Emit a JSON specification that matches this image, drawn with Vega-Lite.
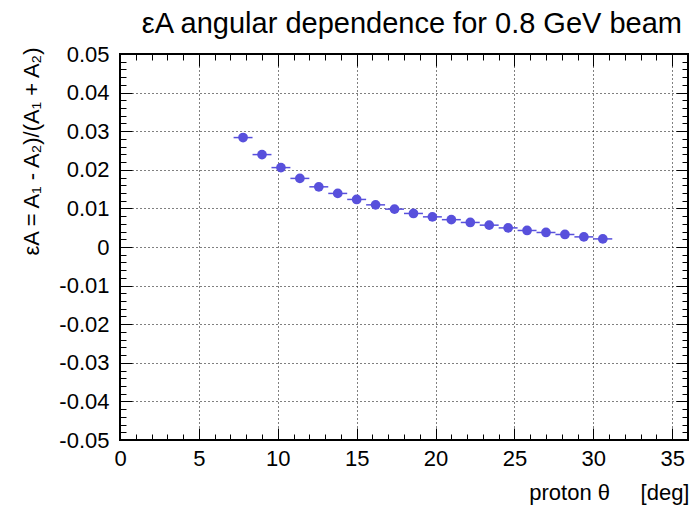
{
  "$schema": "https://vega.github.io/schema/vega-lite/v6.json",
  "width": 568,
  "height": 386,
  "autosize": "none",
  "padding": {"left": 120, "top": 54, "right": 2, "bottom": 68},
  "background": "white",
  "config": {
    "font": "Liberation Sans",
    "view": {"stroke": "black", "strokeWidth": 2},
    "axis": {
      "labelFont": "Liberation Sans",
      "labelFontSize": 22,
      "labelColor": "black",
      "titleFont": "Liberation Sans",
      "titleFontSize": 22,
      "titleFontWeight": "normal",
      "titleColor": "black",
      "domain": false,
      "tickColor": "black",
      "tickWidth": 1,
      "labelFlush": false,
      "labelOverlap": false,
      "labelBound": false,
      "gridColor": "black",
      "gridDash": [1, 3],
      "gridWidth": 1
    }
  },
  "title": {
    "text": "εA angular dependence for 0.8 GeV beam",
    "anchor": "end",
    "frame": "group",
    "fontSize": 29,
    "fontWeight": "normal",
    "font": "Liberation Sans",
    "color": "black",
    "baseline": "alphabetic",
    "offset": -19,
    "dx": -6
  },
  "data": {
    "values": [
      {"theta": 7.8, "eps": 0.02835, "dtheta": 0.6},
      {"theta": 9.0, "eps": 0.02394, "dtheta": 0.6},
      {"theta": 10.2, "eps": 0.02057, "dtheta": 0.6},
      {"theta": 11.4, "eps": 0.01777, "dtheta": 0.6},
      {"theta": 12.6, "eps": 0.01559, "dtheta": 0.6},
      {"theta": 13.8, "eps": 0.01388, "dtheta": 0.6},
      {"theta": 15.0, "eps": 0.01232, "dtheta": 0.6},
      {"theta": 16.2, "eps": 0.01092, "dtheta": 0.6},
      {"theta": 17.4, "eps": 0.00981, "dtheta": 0.6},
      {"theta": 18.6, "eps": 0.00869, "dtheta": 0.6},
      {"theta": 19.8, "eps": 0.00781, "dtheta": 0.6},
      {"theta": 21.0, "eps": 0.00708, "dtheta": 0.6},
      {"theta": 22.2, "eps": 0.00636, "dtheta": 0.6},
      {"theta": 23.4, "eps": 0.00566, "dtheta": 0.6},
      {"theta": 24.6, "eps": 0.00495, "dtheta": 0.6},
      {"theta": 25.8, "eps": 0.00428, "dtheta": 0.6},
      {"theta": 27.0, "eps": 0.00376, "dtheta": 0.6},
      {"theta": 28.2, "eps": 0.00324, "dtheta": 0.6},
      {"theta": 29.4, "eps": 0.00262, "dtheta": 0.6},
      {"theta": 30.6, "eps": 0.00210, "dtheta": 0.6}
    ]
  },
  "layer": [
    {
      "mark": {"type": "errorbar", "color": "#5850dc", "ticks": false, "thickness": 1.5},
      "encoding": {
        "x": {
          "field": "theta",
          "type": "quantitative",
          "scale": {"domain": [0, 36], "nice": false, "zero": false},
          "axis": {
            "orient": "bottom",
            "values": [0,1,2,3,4,5,6,7,8,9,10,11,12,13,14,15,16,17,18,19,20,21,22,23,24,25,26,27,28,29,30,31,32,33,34,35,36],
            "tickSize": {"condition": {"test": "datum.value % 5 === 0", "value": -12}, "value": -6},
            "grid": true,
            "gridOpacity": {"condition": {"test": "datum.value % 5 === 0 && datum.value > 0 && datum.value < 36", "value": 1}, "value": 0},
            "labelExpr": "datum.value % 5 === 0 ? datum.label : ''",
            "labelPadding": {"condition": {"test": "datum.value % 5 === 0", "value": 20}, "value": 14},
            "title": "proton θ\u00a0\u00a0\u00a0\u00a0 [deg]",
            "titleX": 569,
            "titleY": 59,
            "titleAlign": "right",
            "titleBaseline": "alphabetic",
            "titleAngle": 0
          }
        },
        "xError": {"field": "dtheta"},
        "y": {
          "field": "eps",
          "type": "quantitative",
          "scale": {"domain": [-0.05, 0.05], "nice": false, "zero": false},
          "axis": {
            "orient": "left",
            "values": [-0.05,-0.048,-0.046,-0.044,-0.042,-0.04,-0.038,-0.036,-0.034,-0.032,-0.03,-0.028,-0.026,-0.024,-0.022,-0.02,-0.018,-0.016,-0.014,-0.012,-0.01,-0.008,-0.006,-0.004,-0.002,0,0.002,0.004,0.006,0.008,0.01,0.012,0.014,0.016,0.018,0.02,0.022,0.024,0.026,0.028,0.03,0.032,0.034,0.036,0.038,0.04,0.042,0.044,0.046,0.048,0.05],
            "tickSize": {"condition": {"test": "abs(datum.value*100 - round(datum.value*100)) < 1e-6", "value": -12}, "value": -6},
            "grid": true,
            "gridOpacity": {"condition": {"test": "abs(datum.value*100 - round(datum.value*100)) < 1e-6 && abs(datum.value) < 0.0499", "value": 1}, "value": 0},
            "labelExpr": "abs(datum.value*100 - round(datum.value*100)) < 1e-6 ? (abs(datum.value) < 1e-9 ? '0' : (datum.value < 0 ? '-' : '') + format(abs(datum.value), '.2f')) : ''",
            "labelPadding": {"condition": {"test": "abs(datum.value*100 - round(datum.value*100)) < 1e-6", "value": 23}, "value": 17},
            "title": "εA = A₁ - A₂)/(A₁ + A₂)",
            "titleAngle": 270,
            "titleX": -82,
            "titleY": -7,
            "titleAlign": "right",
            "titleBaseline": "alphabetic"
          }
        }
      }
    },
    {
      "mark": {"type": "point", "filled": true, "size": 95, "color": "#5850dc", "opacity": 1},
      "encoding": {
        "x": {"field": "theta", "type": "quantitative", "axis": null},
        "y": {"field": "eps", "type": "quantitative", "axis": null}
      }
    },
    {
      "mark": {"type": "point", "opacity": 0},
      "encoding": {
        "x": {
          "field": "theta",
          "type": "quantitative",
          "axis": {
            "orient": "top",
            "values": [0,1,2,3,4,5,6,7,8,9,10,11,12,13,14,15,16,17,18,19,20,21,22,23,24,25,26,27,28,29,30,31,32,33,34,35,36],
            "tickSize": {"condition": {"test": "datum.value % 5 === 0", "value": -12}, "value": -6},
            "labels": false,
            "grid": false,
            "title": null
          }
        },
        "y": {
          "field": "eps",
          "type": "quantitative",
          "axis": {
            "orient": "right",
            "values": [-0.05,-0.048,-0.046,-0.044,-0.042,-0.04,-0.038,-0.036,-0.034,-0.032,-0.03,-0.028,-0.026,-0.024,-0.022,-0.02,-0.018,-0.016,-0.014,-0.012,-0.01,-0.008,-0.006,-0.004,-0.002,0,0.002,0.004,0.006,0.008,0.01,0.012,0.014,0.016,0.018,0.02,0.022,0.024,0.026,0.028,0.03,0.032,0.034,0.036,0.038,0.04,0.042,0.044,0.046,0.048,0.05],
            "tickSize": {"condition": {"test": "abs(datum.value*100 - round(datum.value*100)) < 1e-6", "value": -12}, "value": -6},
            "labels": false,
            "grid": false,
            "title": null
          }
        }
      }
    }
  ],
  "resolve": {"axis": {"x": "independent", "y": "independent"}}
}
